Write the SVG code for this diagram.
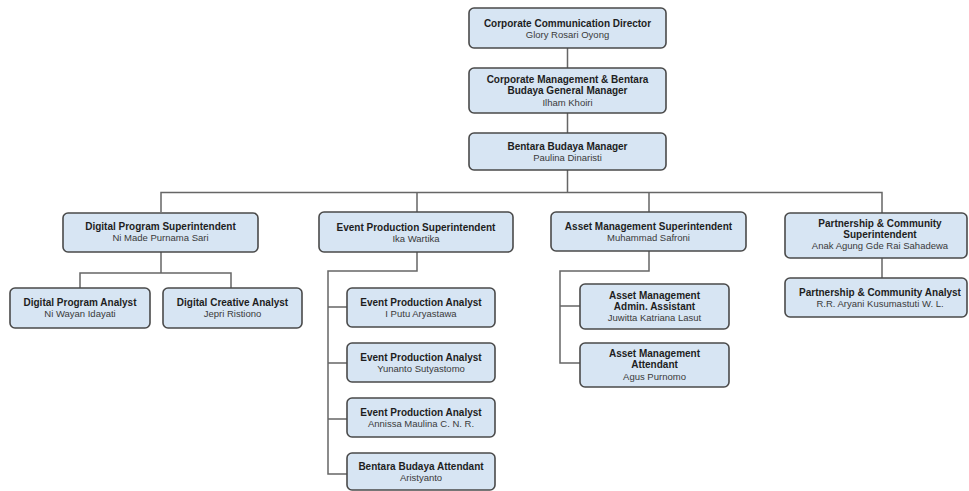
<svg xmlns="http://www.w3.org/2000/svg" width="969" height="491" viewBox="0 0 969 491">
<style>
.box{fill:#d7e5f3;stroke:#4a4a4a;stroke-width:1.6}
.t{font-family:"Liberation Sans",Arial,sans-serif;font-size:10px;font-weight:bold;fill:#1e1e1e;text-anchor:middle}
.n{font-family:"Liberation Sans",Arial,sans-serif;font-size:9.5px;fill:#3a3a3a;text-anchor:middle}
.c{fill:none;stroke:#666;stroke-width:1.5}
</style>
<rect width="969" height="491" fill="#fff"/>
<g id="connectors">
<path class="c" d="M567.5 48V68M567.5 113V133M567.5 170V192.5"/>
<path class="c" d="M161 212V192.5H882V213M417 192.5V212M649 192.5V212"/>
<path class="c" d="M161 252V273M80 288V273H231V288"/>
<path class="c" d="M417 252V271H328V474H347M328 307H347M328 363H347M328 419H347"/>
<path class="c" d="M649 251V271H560V363H580M560 306H580"/>
<path class="c" d="M882 258V278"/>
</g>
<g id="n1"><rect class="box" x="469" y="8" width="197" height="40" rx="5"/><text class="t" x="567.5" y="26.5">Corporate Communication Director</text><text class="n" x="567.5" y="37.5">Glory Rosari Oyong</text></g>
<g id="n2"><rect class="box" x="469" y="68" width="197" height="45" rx="5"/><text class="t" x="567.5" y="82.5">Corporate Management &amp; Bentara</text><text class="t" x="567.5" y="93.5">Budaya General Manager</text><text class="n" x="567.5" y="105.5">Ilham Khoiri</text></g>
<g id="n3"><rect class="box" x="469" y="133" width="197" height="37" rx="5"/><text class="t" x="567.5" y="149.5">Bentara Budaya Manager</text><text class="n" x="567.5" y="160.5">Paulina Dinaristi</text></g>
<g id="dps"><rect class="box" x="63" y="213" width="195" height="39" rx="5"/><text class="t" x="160.5" y="229.5">Digital Program Superintendent</text><text class="n" x="160.5" y="241">Ni Made Purnama Sari</text></g>
<g id="dpa"><rect class="box" x="10" y="288" width="140" height="40" rx="5"/><text class="t" x="80" y="305.5">Digital Program Analyst</text><text class="n" x="80" y="316.5">Ni Wayan Idayati</text></g>
<g id="dca"><rect class="box" x="163" y="288" width="139" height="40" rx="5"/><text class="t" x="232.5" y="305.5">Digital Creative Analyst</text><text class="n" x="232.5" y="316.5">Jepri Ristiono</text></g>
<g id="eps"><rect class="box" x="319" y="212" width="194" height="40" rx="5"/><text class="t" x="416" y="230.5">Event Production Superintendent</text><text class="n" x="416" y="241.5">Ika Wartika</text></g>
<g id="epa1"><rect class="box" x="347" y="288" width="148" height="39" rx="5"/><text class="t" x="421" y="306">Event Production Analyst</text><text class="n" x="421" y="317">I Putu Aryastawa</text></g>
<g id="epa2"><rect class="box" x="347" y="343" width="148" height="39" rx="5"/><text class="t" x="421" y="361">Event Production Analyst</text><text class="n" x="421" y="372">Yunanto Sutyastomo</text></g>
<g id="epa3"><rect class="box" x="347" y="398" width="148" height="39" rx="5"/><text class="t" x="421" y="416">Event Production Analyst</text><text class="n" x="421" y="427">Annissa Maulina C. N. R.</text></g>
<g id="bba"><rect class="box" x="347" y="453" width="148" height="37" rx="5"/><text class="t" x="421" y="470">Bentara Budaya Attendant</text><text class="n" x="421" y="481">Aristyanto</text></g>
<g id="ams"><rect class="box" x="551" y="212" width="195" height="39" rx="5"/><text class="t" x="648.5" y="229.5">Asset Management Superintendent</text><text class="n" x="648.5" y="240.5">Muhammad Safroni</text></g>
<g id="ama"><rect class="box" x="580" y="284" width="149" height="45" rx="5"/><text class="t" x="654.5" y="298.5">Asset Management</text><text class="t" x="654.5" y="309.5">Admin. Assistant</text><text class="n" x="654.5" y="321">Juwitta Katriana Lasut</text></g>
<g id="amt"><rect class="box" x="580" y="343" width="149" height="44" rx="5"/><text class="t" x="654.5" y="357">Asset Management</text><text class="t" x="654.5" y="368">Attendant</text><text class="n" x="654.5" y="379.5">Agus Purnomo</text></g>
<g id="pcs"><rect class="box" x="785" y="213" width="182" height="45" rx="5"/><text class="t" x="880" y="226.5">Partnership &amp; Community</text><text class="t" x="880" y="237.5">Superintendent</text><text class="n" x="880" y="248.5">Anak Agung Gde Rai Sahadewa</text></g>
<g id="pca"><rect class="box" x="785" y="278" width="182" height="39" rx="5"/><text class="t" x="880" y="296">Partnership &amp; Community Analyst</text><text class="n" x="880" y="307">R.R. Aryani Kusumastuti W. L.</text></g>
</svg>
